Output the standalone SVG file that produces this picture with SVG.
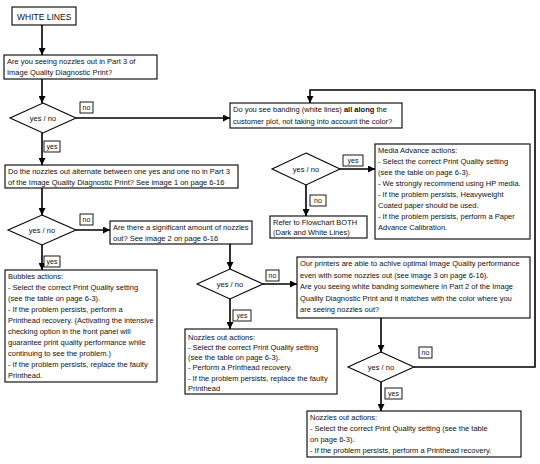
<svg xmlns="http://www.w3.org/2000/svg" width="540" height="464" viewBox="0 0 540 464">
<defs>
<marker id="ah" markerUnits="userSpaceOnUse" markerWidth="8" markerHeight="7" refX="7" refY="3.5" orient="auto">
<path d="M0,0 L7,3.5 L0,7 z" fill="#000"/>
</marker>
</defs>
<style>
.box{fill:#fff;stroke:#000;stroke-width:1.1}
.dia{fill:#fff;stroke:#000;stroke-width:1.1}
.lbl{fill:#fff;stroke:#000;stroke-width:0.9}
.t{font-family:"Liberation Sans",Arial,sans-serif;font-size:7.5px;fill:#111}
.tc{font-family:"Liberation Sans",Arial,sans-serif;font-size:7.5px;fill:#111;text-anchor:middle}
.tl{font-family:"Liberation Sans",Arial,sans-serif;font-size:7px;fill:#111;text-anchor:middle}
.con{fill:none;stroke:#000;stroke-width:1.6;marker-end:url(#ah)}
</style>
<rect width="540" height="464" fill="#fff"/>

<g id="connectors">
<path class="con" d="M42,25 V55"/>
<path class="con" d="M42,79 V103"/>
<path class="con" d="M76,118 H230"/>
<path class="con" d="M42,133 V165"/>
<path class="con" d="M42,188 V215"/>
<path class="con" d="M76,230 H110"/>
<path class="con" d="M42,245 V270"/>
<path class="con" d="M230,244 V269"/>
<path class="con" d="M263,284 H297"/>
<path class="con" d="M230,299 V329"/>
<path class="con" d="M381,318 V352"/>
<path class="con" d="M414,367 H535 V90 H310 V103"/>
<path class="con" d="M381,382 V411"/>
<path class="con" d="M340,169 H375"/>
<path class="con" d="M306,185 V216"/>
</g>

<g id="start">
<rect class="box" x="12" y="7" width="64" height="18"/>
<text class="t" x="17" y="19.5" style="font-size:8.5px">WHITE LINES</text>
</g>

<g id="q-nozzles-part3">
<rect class="box" x="4" y="55" width="153" height="24"/>
<text class="t" x="7" y="64">Are you seeing nozzles out in Part 3 of</text>
<text class="t" x="7" y="75">Image Quality Diagnostic Print?</text>
</g>

<g id="d1">
<polygon class="dia" points="43,103 76,118 43,133 10,118"/>
<text class="tc" x="43" y="120.5">yes / no</text>
</g>
<g id="d1-no"><rect class="lbl" x="80" y="102" width="13" height="11"/><text class="tl" x="86.5" y="110">no</text></g>
<g id="d1-yes"><rect class="lbl" x="44" y="141" width="16" height="11"/><text class="tl" x="52" y="149">yes</text></g>

<g id="q-banding">
<rect class="box" x="230" y="103" width="172" height="25"/>
<text class="t" x="233" y="112">Do you see banding (white lines) <tspan font-weight="bold">all along</tspan> the</text>
<text class="t" x="233" y="123.5">customer plot, not taking into account  the color?</text>
</g>

<g id="d5">
<polygon class="dia" points="306,153 340,169 306,185 272,169"/>
<text class="tc" x="306" y="171.5">yes / no</text>
</g>
<g id="d5-yes"><rect class="lbl" x="343" y="155" width="20" height="11"/><text class="tl" x="353" y="163">yes</text></g>
<g id="d5-no"><rect class="lbl" x="310" y="195" width="16" height="11"/><text class="tl" x="318" y="203">no</text></g>

<g id="media-advance">
<rect class="box" x="375" y="144" width="155" height="95"/>
<text class="t" x="378" y="153">Media Advance actions:</text>
<text class="t" x="378" y="164">- Select the correct Print Quality setting</text>
<text class="t" x="378" y="175">(see the table on page 6-3).</text>
<text class="t" x="378" y="186">- We strongly recommend using HP media.</text>
<text class="t" x="378" y="197">- If the problem persists, Heavyweight</text>
<text class="t" x="378" y="208">Coated paper should be used.</text>
<text class="t" x="378" y="219">- If the problem persists, perform a Paper</text>
<text class="t" x="378" y="230">Advance Calibration.</text>
</g>

<g id="refer-both">
<rect class="box" x="270" y="216" width="97" height="22"/>
<text class="t" x="273" y="225">Refer to Flowchart BOTH</text>
<text class="t" x="273" y="235">(Dark and White Lines)</text>
</g>

<g id="q-alternate">
<rect class="box" x="5" y="165" width="233" height="23"/>
<text class="t" x="8" y="174">Do the nozzles out alternate between one yes and one no in Part 3</text>
<text class="t" x="8" y="185">of the  Image Quality Diagnostic Print? See image 1 on page 6-16</text>
</g>

<g id="d2">
<polygon class="dia" points="42,215 76,230 42,245 8,230"/>
<text class="tc" x="42" y="232.5">yes / no</text>
</g>
<g id="d2-no"><rect class="lbl" x="80" y="214" width="13" height="11"/><text class="tl" x="86.5" y="222">no</text></g>
<g id="d2-yes"><rect class="lbl" x="44" y="256" width="16" height="11"/><text class="tl" x="52" y="264">yes</text></g>

<g id="q-significant">
<rect class="box" x="110" y="221" width="142" height="23"/>
<text class="t" x="113" y="230">Are there a significant amount of nozzles</text>
<text class="t" x="113" y="241">out? See image 2 on page 6-16</text>
</g>

<g id="bubbles">
<rect class="box" x="5" y="270" width="152" height="112"/>
<text class="t" x="8" y="279">Bubbles actions:</text>
<text class="t" x="8" y="290">- Select the correct Print Quality setting</text>
<text class="t" x="8" y="301">(see the table on page 6-3).</text>
<text class="t" x="8" y="312">- If the problem persists, perform a</text>
<text class="t" x="8" y="323">Printhead recovery. (Activating the intensive</text>
<text class="t" x="8" y="334">checking option in the front panel will</text>
<text class="t" x="8" y="345">guarantee print quality performance while</text>
<text class="t" x="8" y="356">continuing to see the problem.)</text>
<text class="t" x="8" y="367">- If the problem persists, replace the faulty</text>
<text class="t" x="8" y="378">Printhead.</text>
</g>

<g id="d3">
<polygon class="dia" points="230,269 263,284 230,299 197,284"/>
<text class="tc" x="230" y="286.5">yes / no</text>
</g>
<g id="d3-no"><rect class="lbl" x="266" y="270" width="13" height="11"/><text class="tl" x="272.5" y="278">no</text></g>
<g id="d3-yes"><rect class="lbl" x="233" y="310" width="18" height="11"/><text class="tl" x="242" y="318">yes</text></g>

<g id="q-optimal">
<rect class="box" x="297" y="257" width="233" height="61"/>
<text class="t" x="300" y="266">Our printers are able to achive optimal Image Quality performance</text>
<text class="t" x="300" y="277.5">even with some nozzles out (see image 3 on page 6-16).</text>
<text class="t" x="300" y="289">Are you seeing white banding somewhere in Part 2 of the Image</text>
<text class="t" x="300" y="300.5">Quality Diagnostic Print and it matches with the color where you</text>
<text class="t" x="300" y="312">are seeing nozzles out?</text>
</g>

<g id="nozzles-actions-1">
<rect class="box" x="185" y="329" width="152" height="65"/>
<text class="t" x="188" y="339.5">Nozzles out actions:</text>
<text class="t" x="188" y="349.8">- Select the correct Print Quality setting</text>
<text class="t" x="188" y="360">(see the table on page 6-3).</text>
<text class="t" x="188" y="370.2">- Perform a Printhead recovery.</text>
<text class="t" x="188" y="380.5">- If the problem persists, replace the faulty</text>
<text class="t" x="188" y="390.7">Printhead</text>
</g>

<g id="d4">
<polygon class="dia" points="381,352 414,367 381,382 348,367"/>
<text class="tc" x="381" y="369.5">yes / no</text>
</g>
<g id="d4-no"><rect class="lbl" x="419" y="347" width="13" height="11"/><text class="tl" x="425.5" y="355">no</text></g>
<g id="d4-yes"><rect class="lbl" x="385" y="388" width="17" height="11"/><text class="tl" x="393.5" y="396">yes</text></g>

<g id="nozzles-actions-2">
<rect class="box" x="307" y="411" width="214" height="46"/>
<text class="t" x="310" y="420">Nozzles out actions:</text>
<text class="t" x="310" y="431">- Select the correct Print Quality setting (see the table</text>
<text class="t" x="310" y="442">on page 6-3).</text>
<text class="t" x="310" y="453">- If the problem persists, perform a Printhead recovery.</text>
</g>
</svg>
